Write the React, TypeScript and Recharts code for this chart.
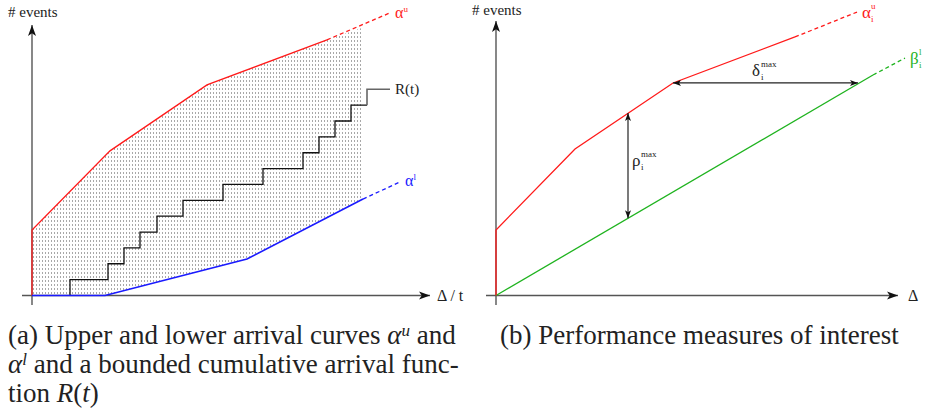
import React from "react";
import {
  ComposedChart,
  Line,
  Area,
  XAxis,
  YAxis,
  ReferenceLine,
  ReferenceDot,
} from "recharts";

// ---- panel (a): arrival curves and a cumulative arrival function ----
const upperX = [0, 0, 7.8, 17.5, 29.5];
const upperY = [0, 4.13, 9.12, 13.28, 16.12];
const upperDashX = [29.5, 35.8];
const upperDashY = [16.12, 17.82];

const lowerX = [0, 7.3, 21.5, 33.1];
const lowerY = [0, 0, 2.3, 6.08];
const lowerDashX = [33.1, 36.8];
const lowerDashY = [6.08, 7.16];

// top edge of the shaded band (follows alpha-u up to where alpha-l stops)
const bandTopX = [0, 7.8, 17.5, 29.5, 33.1];
const bandTopY = [4.13, 9.12, 13.28, 16.12, 16.9];

// R(t): event arrival times and counts
const arrivalX = [3.8, 3.8, 7.6, 9.2, 10.8, 12.5, 15.1, 19.1, 23.1, 27.1, 28.7, 30.3, 31.9, 33.5];
const arrivalN = [0, 1, 2, 3, 4, 5, 6, 7, 8, 9, 10, 11, 12, 12];
const arrivalTailX = [33.5, 33.5, 35.8];
const arrivalTailN = [12, 13, 13];

// ---- panel (b): performance measures ----
const alphaX = [0, 0, 7.9, 17.7, 29.9];
const alphaY = [0, 4.13, 9.24, 13.4, 16.3];
const alphaDashX = [29.9, 36.1];
const alphaDashY = [16.3, 17.87];

const betaX = [0, 37.7];
const betaY = [0, 13.9];
const betaDashX = [37.7, 40.9];
const betaDashY = [13.9, 14.97];

const rhoAt = 13.2;
const rhoSpan = [4.87, 11.5];
const deltaAt = 13.4;
const deltaSpan = [17.7, 36.2];

const pts = (xs: number[], ys: number[]) => xs.map((x, i) => ({ x, y: ys[i] }));

const RED = "#ff1a1a";
const BLUE = "#1a1aff";
const GREEN = "#1fb31f";
const SERIF = '"Liberation Serif", "Times New Roman", serif';

// line with arrow heads drawn at one or both ends
const arrow =
  (o: { start?: boolean; len: number; half: number; stroke: string; sw: number }) =>
  (p: any) => {
    const { x1, y1, x2, y2 } = p;
    const dx = x2 - x1;
    const dy = y2 - y1;
    const d = Math.hypot(dx, dy) || 1;
    const ux = dx / d;
    const uy = dy / d;
    const head = (tx: number, ty: number, sx: number, sy: number) => {
      const bx = tx - sx * o.len;
      const by = ty - sy * o.len;
      const nx = -sy * o.half;
      const ny = sx * o.half;
      const mx = tx - sx * o.len * 0.75;
      const my = ty - sy * o.len * 0.75;
      return `${tx},${ty} ${bx + nx},${by + ny} ${mx},${my} ${bx - nx},${by - ny}`;
    };
    return (
      <g>
        <line x1={x1} y1={y1} x2={x2} y2={y2} stroke={o.stroke} strokeWidth={o.sw} />
        <polygon points={head(x2, y2, ux, uy)} fill="#111" />
        {o.start && <polygon points={head(x1, y1, -ux, -uy)} fill="#111" />}
      </g>
    );
  };

const axisArrow = arrow({ len: 11, half: 4, stroke: "#555", sw: 1.4 });
const measureArrow = arrow({ start: true, len: 8, half: 3, stroke: "#222", sw: 1.2 });

// text placed at a data point, shifted by a pixel offset
const note =
  (dx: number, dy: number, body: React.ReactNode, color = "#222", size = 15) =>
  (p: any) =>
    (
      <text x={p.cx + dx} y={p.cy + dy} fill={color} fontSize={size} fontFamily={SERIF}>
        {body}
      </text>
    );

const stacked =
  (dx: number, dy: number, base: string, sup: string, sub: string, color = "#222") =>
  (p: any) => {
    const x = p.cx + dx;
    const y = p.cy + dy;
    return (
      <g fill={color} fontFamily={SERIF}>
        <text x={x} y={y} fontSize={17}>
          {base}
        </text>
        <text x={x + 9} y={y - 9} fontSize={9}>
          {sup}
        </text>
        <text x={x + 9} y={y + 4} fontSize={9}>
          {sub}
        </text>
      </g>
    );
  };

const lineProps = {
  dataKey: "y",
  type: "linear" as const,
  dot: false,
  activeDot: false,
  isAnimationActive: false,
  strokeWidth: 1.3,
};

function PanelA() {
  return (
    <ComposedChart width={470} height={310} margin={{ top: 10, right: 40, bottom: 5, left: 22 }}>
      <defs>
        <pattern id="hatch" width="3" height="4" patternUnits="userSpaceOnUse">
          <rect x="0" y="0" width="1" height="2" fill="#a8a8a8" />
        </pattern>
      </defs>
      <XAxis type="number" dataKey="x" domain={[-1, 39.8]} hide allowDataOverflow />
      <YAxis type="number" domain={[-0.6, 18]} hide allowDataOverflow />
      <Area
        data={pts(bandTopX, bandTopY)}
        dataKey="y"
        type="linear"
        baseValue={0}
        stroke="none"
        fill="url(#hatch)"
        fillOpacity={1}
        isAnimationActive={false}
        activeDot={false}
      />
      <Area
        data={pts(lowerX, lowerY)}
        dataKey="y"
        type="linear"
        baseValue={0}
        stroke="none"
        fill="#ffffff"
        fillOpacity={1}
        isAnimationActive={false}
        activeDot={false}
      />
      <ReferenceLine segment={[{ x: -1, y: 0 }, { x: 39.8, y: 0 }]} shape={axisArrow} ifOverflow="visible" />
      <ReferenceLine segment={[{ x: 0, y: -0.6 }, { x: 0, y: 17.06 }]} shape={axisArrow} ifOverflow="visible" />
      <Line {...lineProps} data={pts(arrivalX, arrivalN)} type="stepAfter" stroke="#111" />
      <Line {...lineProps} data={pts(arrivalTailX, arrivalTailN)} type="stepAfter" stroke="#666" strokeWidth={1.6} />
      <Line {...lineProps} data={pts(upperX, upperY)} stroke={RED} />
      <Line {...lineProps} data={pts(upperDashX, upperDashY)} stroke={RED} strokeDasharray="4 3" />
      <Line {...lineProps} data={pts(lowerX, lowerY)} stroke={BLUE} strokeWidth={1.6} />
      <Line {...lineProps} data={pts(lowerDashX, lowerDashY)} stroke={BLUE} strokeDasharray="4 3" />
      <ReferenceDot x={0} y={17.06} ifOverflow="visible" shape={note(-24, -8, "# events")} />
      <ReferenceDot x={39.8} y={0} ifOverflow="visible" shape={note(7, 6, "Δ / t", "#222", 16)} />
      <ReferenceDot x={35.8} y={13} ifOverflow="visible" shape={note(5, 5, "R(t)")} />
      <ReferenceDot
        x={35.8}
        y={17.82}
        ifOverflow="visible"
        shape={note(5, 5, <>α<tspan dy={-6} fontSize={9}>u</tspan></>, RED, 16)}
      />
      <ReferenceDot
        x={36.8}
        y={7.16}
        ifOverflow="visible"
        shape={note(5, 4, <>α<tspan dy={-6} fontSize={9}>l</tspan></>, BLUE, 16)}
      />
    </ComposedChart>
  );
}

function PanelB() {
  return (
    <ComposedChart width={460} height={310} margin={{ top: 10, right: 14, bottom: 5, left: 21 }}>
      <XAxis type="number" dataKey="x" domain={[-1, 41.5]} hide allowDataOverflow />
      <YAxis type="number" domain={[-0.6, 18]} hide allowDataOverflow />
      <ReferenceLine segment={[{ x: -1, y: 0 }, { x: 40.2, y: 0 }]} shape={axisArrow} ifOverflow="visible" />
      <ReferenceLine segment={[{ x: 0, y: -0.6 }, { x: 0, y: 17.3 }]} shape={axisArrow} ifOverflow="visible" />
      <Line {...lineProps} data={pts(betaX, betaY)} stroke={GREEN} />
      <Line {...lineProps} data={pts(betaDashX, betaDashY)} stroke={GREEN} strokeDasharray="4 3" />
      <Line {...lineProps} data={pts(alphaX, alphaY)} stroke={RED} />
      <Line {...lineProps} data={pts(alphaDashX, alphaDashY)} stroke={RED} strokeDasharray="4 3" />
      <ReferenceLine
        segment={[{ x: rhoAt, y: rhoSpan[1] }, { x: rhoAt, y: rhoSpan[0] }]}
        shape={measureArrow}
        ifOverflow="visible"
      />
      <ReferenceLine
        segment={[{ x: deltaSpan[0], y: deltaAt }, { x: deltaSpan[1], y: deltaAt }]}
        shape={measureArrow}
        ifOverflow="visible"
      />
      <ReferenceDot x={0} y={17.3} ifOverflow="visible" shape={note(-24, -6, "# events")} />
      <ReferenceDot x={40.2} y={0} ifOverflow="visible" shape={note(10, 6, "Δ", "#222", 16)} />
      <ReferenceDot x={36.1} y={17.87} ifOverflow="visible" shape={stacked(5, 6, "α", "u", "i", RED)} />
      <ReferenceDot x={40.9} y={14.97} ifOverflow="visible" shape={stacked(5, 6, "β", "l", "i", GREEN)} />
      <ReferenceDot x={rhoAt} y={rhoSpan[1]} ifOverflow="visible" shape={stacked(4, 53, "ρ", "max", "i")} />
      <ReferenceDot x={deltaSpan[0]} y={deltaAt} ifOverflow="visible" shape={stacked(79, -7, "δ", "max", "i")} />
    </ComposedChart>
  );
}

const cap: React.CSSProperties = {
  position: "absolute",
  fontFamily: SERIF,
  fontSize: 27,
  lineHeight: "29px",
  color: "#222",
  whiteSpace: "nowrap",
};

const Sup = ({ children }: { children: React.ReactNode }) => (
  <span style={{ fontSize: 17, fontStyle: "italic", position: "relative", top: -8, lineHeight: 0 }}>{children}</span>
);

export default function App() {
  return (
    <div style={{ position: "absolute", left: 0, top: 0, width: 925, height: 409, background: "#fff", overflow: "hidden" }}>
      <div style={{ position: "absolute", left: 0, top: 0 }}>
        <PanelA />
      </div>
      <div style={{ position: "absolute", left: 465, top: 0 }}>
        <PanelB />
      </div>
      <div style={{ ...cap, left: 8, top: 321 }}>
        (a) Upper and lower arrival curves <i>α</i>
        <Sup>u</Sup> and
      </div>
      <div style={{ ...cap, left: 8, top: 350 }}>
        <i>α</i>
        <Sup>l</Sup> and a bounded cumulative arrival func-
      </div>
      <div style={{ ...cap, left: 8, top: 379 }}>
        tion <i>R</i>(<i>t</i>)
      </div>
      <div style={{ ...cap, left: 500, top: 321 }}>(b) Performance measures of interest</div>
    </div>
  );
}
